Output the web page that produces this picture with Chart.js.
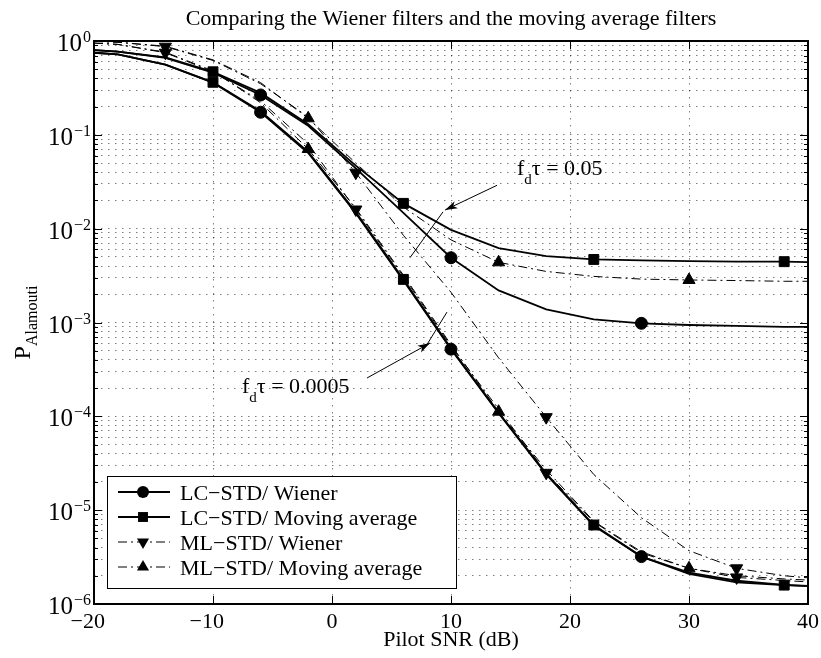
<!DOCTYPE html>
<html>
<head>
<meta charset="utf-8">
<script src="https://cdn.jsdelivr.net/npm/chart.js@4/dist/chart.umd.min.js"></script>
<style>
  html, body { margin: 0; padding: 0; background: #fff; }
  #wrap { width: 821px; height: 658px; position: relative; }
</style>
</head>
<body>
<div id="wrap"><canvas id="grafico"></canvas></div>
<script>
// pilot SNR (dB) where the curves are sampled
const snr = [-20, -18, -14, -10, -6, -2, 2, 6, 10, 14, 18, 22, 26, 30, 34, 38, 40];

// f_d tau = 0.05
const lcWiener005 = [0.80, 0.77, 0.66, 0.46, 0.266, 0.125, 0.044, 0.0147, 0.0049, 0.0022, 0.00138, 0.00108, 0.00098, 0.00094, 0.00092, 0.0009, 0.0009];
const lcMovAvg005 = [0.80, 0.77, 0.67, 0.47, 0.28, 0.13, 0.047, 0.0186, 0.0097, 0.0062, 0.0051, 0.0047, 0.0046, 0.0045, 0.00445, 0.00445, 0.0044];
const mlWiener005 = [0.99, 0.97, 0.87, 0.62, 0.35, 0.155, 0.0395, 0.0085, 0.0021, 0.00042, 0.000098, 0.000024, 0.0000083, 0.0000037, 0.0000024, 0.000002, 0.0000019];
const mlMovAvg005 = [0.99, 0.97, 0.88, 0.63, 0.36, 0.15, 0.05, 0.017, 0.0076, 0.00438, 0.0035, 0.0031, 0.0029, 0.00284, 0.0028, 0.00275, 0.00275];

// f_d tau = 0.0005
const lcWiener00005 = [0.75, 0.72, 0.56, 0.36, 0.174, 0.064, 0.0146, 0.0028, 0.00052, 0.000108, 0.000024, 0.0000068, 0.0000032, 0.00000216, 0.00000177, 0.0000016, 0.00000156];
const lcMovAvg00005 = [0.75, 0.72, 0.56, 0.363, 0.178, 0.066, 0.015, 0.00288, 0.00053, 0.00011, 0.0000245, 0.00000695, 0.0000032, 0.0000021, 0.0000017, 0.00000159, 0.00000155];
const mlWiener00005 = [0.95, 0.92, 0.75, 0.47, 0.23, 0.08, 0.016, 0.0031, 0.00056, 0.00012, 0.000025, 0.0000075, 0.0000035, 0.0000024, 0.00000192, 0.00000178, 0.00000172];
const mlMovAvg00005 = [0.95, 0.92, 0.76, 0.48, 0.22, 0.0706, 0.0165, 0.0032, 0.00058, 0.000112, 0.000027, 0.0000076, 0.0000036, 0.0000024, 0.000002, 0.00000185, 0.0000018];

// SNR values that carry a marker, per series
const circleAt = [-6, 10, 26];
const squareAt = [-10, 6, 22, 38];
const downAt = [-14, 2, 18, 34];
const upAt = [-2, 14, 30];

const seriesNames = ['LC\u2212STD/ Wiener', 'LC\u2212STD/ Moving average', 'ML\u2212STD/ Wiener', 'ML\u2212STD/ Moving average'];
const xTicks = [-20, -10, 0, 10, 20, 30, 40];
const yExponents = [-6, -5, -4, -3, -2, -1, 0];

const titleText = 'Comparing the Wiener filters and the moving average filters';
const xTitle = 'Pilot SNR (dB)';

// annotations, in data coordinates
const notes = [
  { text: '0.05', at: [15.55, 0.0373], arrow: [[13.87, 0.029], [9.5, 0.0158]], bar: [[9.33, 0.0151], [6.55, 0.0049]] },
  { text: '0.0005', at: [-7.56, 0.000177], arrow: [[2.94, 0.000256], [8.24, 0.000604]], bar: [[9.66, 0.00129], [7.9, 0.00056]] }
];

const SERIF = '"Liberation Serif", "Times New Roman", serif';
const dashDot = [9, 4, 2, 4];

const styles = [
  { shape: 'circle', rot: 0, r: 6, dash: [], w: 1.8, marks: circleAt },
  { shape: 'rect', rot: 0, r: 7, dash: [], w: 1.8, marks: squareAt },
  { shape: 'triangle', rot: 180, r: 7, dash: dashDot, w: 1, marks: downAt },
  { shape: 'triangle', rot: 0, r: 7, dash: dashDot, w: 1, marks: upAt }
];

function makeSet(idx, values) {
  const st = styles[idx];
  return {
    label: seriesNames[idx],
    data: snr.map((x, i) => ({ x: x, y: values[i] })),
    borderColor: '#000',
    backgroundColor: '#000',
    borderWidth: st.w,
    borderDash: st.dash,
    pointStyle: st.shape,
    pointRotation: st.rot,
    pointBackgroundColor: '#000',
    pointBorderColor: '#000',
    pointBorderWidth: 1,
    pointRadius: c => st.marks.includes(snr[c.dataIndex]) ? st.r : 0,
    pointHoverRadius: c => st.marks.includes(snr[c.dataIndex]) ? st.r : 0,
    tension: 0,
    fill: false
  };
}

function isDecade(v) {
  const l = Math.log10(v);
  return Math.abs(l - Math.round(l)) < 1e-9;
}

function drawMarker(ctx, shape, rot, r, x, y) {
  ctx.save();
  ctx.translate(x, y);
  ctx.rotate(rot * Math.PI / 180);
  ctx.beginPath();
  if (shape === 'circle') {
    ctx.arc(0, 0, r, 0, Math.PI * 2);
  } else if (shape === 'rect') {
    const s = Math.SQRT1_2 * r;
    ctx.rect(-s, -s, 2 * s, 2 * s);
  } else {
    ctx.moveTo(0, -r);
    ctx.lineTo(r * 0.866, r * 0.5);
    ctx.lineTo(-r * 0.866, r * 0.5);
    ctx.closePath();
  }
  ctx.fillStyle = '#000';
  ctx.fill();
  ctx.restore();
}

const matlabLook = {
  id: 'matlabLook',
  afterDraw(chart) {
    const ctx = chart.ctx;
    const a = chart.chartArea;
    const xs = chart.scales.x;
    const ys = chart.scales.y;
    const seg = (x1, y1, x2, y2) => { ctx.beginPath(); ctx.moveTo(x1, y1); ctx.lineTo(x2, y2); ctx.stroke(); };
    ctx.save();
    ctx.strokeStyle = '#000';
    ctx.fillStyle = '#000';
    ctx.setLineDash([]);

    // inward tick marks on all four sides
    ctx.lineWidth = 1;
    ys.ticks.forEach(t => {
      const y = Math.round(ys.getPixelForValue(t.value)) + 0.5;
      const len = isDecade(t.value) ? 8 : 4;
      seg(a.left, y, a.left + len, y);
      seg(a.right, y, a.right - len, y);
    });
    xs.ticks.forEach(t => {
      const x = Math.round(xs.getPixelForValue(t.value)) + 0.5;
      seg(x, a.bottom, x, a.bottom - 8);
      seg(x, a.top, x, a.top + 8);
    });

    // box
    ctx.lineWidth = 2;
    ctx.strokeRect(a.left, a.top, a.right - a.left, a.bottom - a.top);

    // y tick labels 10^n
    ctx.textBaseline = 'alphabetic';
    yExponents.forEach(e => {
      const y = ys.getPixelForValue(Math.pow(10, e));
      const expStr = e === 0 ? '0' : '\u2212' + (-e);
      ctx.font = '16px ' + SERIF;
      const ew = ctx.measureText(expStr).width;
      const right = a.left - 3;
      ctx.textAlign = 'left';
      ctx.fillText(expStr, right - ew, y + 1);
      ctx.font = '25px ' + SERIF;
      ctx.textAlign = 'right';
      ctx.fillText('10', right - ew - 1, y + 10);
    });

    // x tick labels, minus sign hanging left
    ctx.font = '22px ' + SERIF;
    xTicks.forEach(v => {
      const x = xs.getPixelForValue(v);
      const s = String(Math.abs(v));
      const w = ctx.measureText(s).width;
      ctx.textAlign = 'center';
      ctx.fillText(s, x, a.bottom + 24);
      if (v < 0) {
        ctx.textAlign = 'right';
        ctx.fillText('\u2212', x - w / 2, a.bottom + 24);
      }
    });

    // title and axis titles
    ctx.textAlign = 'center';
    ctx.font = '22px ' + SERIF;
    ctx.fillText(titleText, (a.left + a.right) / 2, 25);
    ctx.fillText(xTitle, (a.left + a.right) / 2, a.bottom + 42);

    ctx.save();
    ctx.translate(30, (a.top + a.bottom) / 2);
    ctx.rotate(-Math.PI / 2);
    ctx.font = '24px ' + SERIF;
    const pw = ctx.measureText('P').width;
    ctx.font = '16px ' + SERIF;
    const sw = ctx.measureText('Alamouti').width;
    const start = -(pw + sw) / 2;
    ctx.textAlign = 'left';
    ctx.font = '24px ' + SERIF;
    ctx.fillText('P', start, 0);
    ctx.font = '16px ' + SERIF;
    ctx.fillText('Alamouti', start + pw, 7);
    ctx.restore();

    // annotations
    notes.forEach(n => {
      const px = p => [xs.getPixelForValue(p[0]), ys.getPixelForValue(p[1])];
      const [tx, ty] = px(n.at);
      ctx.textAlign = 'left';
      ctx.font = '22px ' + SERIF;
      ctx.fillText('f', tx, ty);
      let cx = tx + ctx.measureText('f').width;
      ctx.font = '15px ' + SERIF;
      ctx.fillText('d', cx, ty + 9);
      cx += ctx.measureText('d').width;
      ctx.font = '22px ' + SERIF;
      ctx.fillText('\u03c4 = ' + n.text, cx, ty);

      ctx.lineWidth = 1;
      const [b1x, b1y] = px(n.bar[0]);
      const [b2x, b2y] = px(n.bar[1]);
      seg(b1x, b1y, b2x, b2y);
      const [ax1, ay1] = px(n.arrow[0]);
      const [ax2, ay2] = px(n.arrow[1]);
      seg(ax1, ay1, ax2, ay2);
      const ang = Math.atan2(ay2 - ay1, ax2 - ax1);
      const hl = 13, hw = 0.3;
      ctx.beginPath();
      ctx.moveTo(ax2, ay2);
      ctx.lineTo(ax2 - hl * Math.cos(ang - hw), ay2 - hl * Math.sin(ang - hw));
      ctx.lineTo(ax2 - hl * 0.7 * Math.cos(ang), ay2 - hl * 0.7 * Math.sin(ang));
      ctx.lineTo(ax2 - hl * Math.cos(ang + hw), ay2 - hl * Math.sin(ang + hw));
      ctx.closePath();
      ctx.fill();
    });

    // legend box
    const lx = a.left + 13, ly = a.bottom - 128, lw = 349, lh = 112;
    ctx.fillStyle = '#fff';
    ctx.fillRect(lx, ly, lw, lh);
    ctx.lineWidth = 1;
    ctx.strokeStyle = '#000';
    ctx.strokeRect(lx + 0.5, ly + 0.5, lw, lh);
    ctx.fillStyle = '#000';
    ctx.font = '22px ' + SERIF;
    ctx.textAlign = 'left';
    seriesNames.forEach((name, i) => {
      const st = styles[i];
      const y = ly + 16 + i * 25;
      ctx.lineWidth = st.w;
      ctx.setLineDash(st.dash);
      seg(lx + 11, y, lx + 63, y);
      ctx.setLineDash([]);
      drawMarker(ctx, st.shape, st.rot, st.r, lx + 36, y);
      ctx.fillText(name, lx + 73, y + 8);
    });
    ctx.restore();
  }
};

const ctx = document.getElementById('grafico').getContext('2d');
new Chart(ctx, {
  type: 'line',
  data: {
    datasets: [
      makeSet(0, lcWiener005),
      makeSet(1, lcMovAvg005),
      makeSet(2, mlWiener005),
      makeSet(3, mlMovAvg005),
      makeSet(0, lcWiener00005),
      makeSet(1, lcMovAvg00005),
      makeSet(2, mlWiener00005),
      makeSet(3, mlMovAvg00005)
    ]
  },
  options: {
    responsive: true,
    maintainAspectRatio: false,
    animation: false,
    events: [],
    layout: { padding: { left: 94, top: 41, right: 13, bottom: 54 } },
    plugins: { legend: { display: false }, tooltip: { enabled: false }, title: { display: false } },
    scales: {
      x: {
        type: 'linear',
        min: -20,
        max: 40,
        ticks: { display: false, stepSize: 10 },
        grid: { color: 'rgba(0,0,0,0.5)', lineWidth: 1, drawTicks: false },
        border: { display: false, dash: [1.5, 5.5] }
      },
      y: {
        type: 'logarithmic',
        min: 1e-6,
        max: 1,
        afterBuildTicks: axis => {
          const t = [];
          yExponents.forEach(e => {
            const top = e === 0 ? 1 : 9;
            for (let m = 1; m <= top; m++) t.push({ value: Number((m * Math.pow(10, e)).toPrecision(3)) });
          });
          axis.ticks = t;
        },
        ticks: { display: false },
        grid: { color: 'rgba(0,0,0,0.5)', lineWidth: 1, drawTicks: false },
        border: { display: false, dash: [1.5, 5.5] }
      }
    }
  },
  plugins: [matlabLook]
});
</script>
</body>
</html>
